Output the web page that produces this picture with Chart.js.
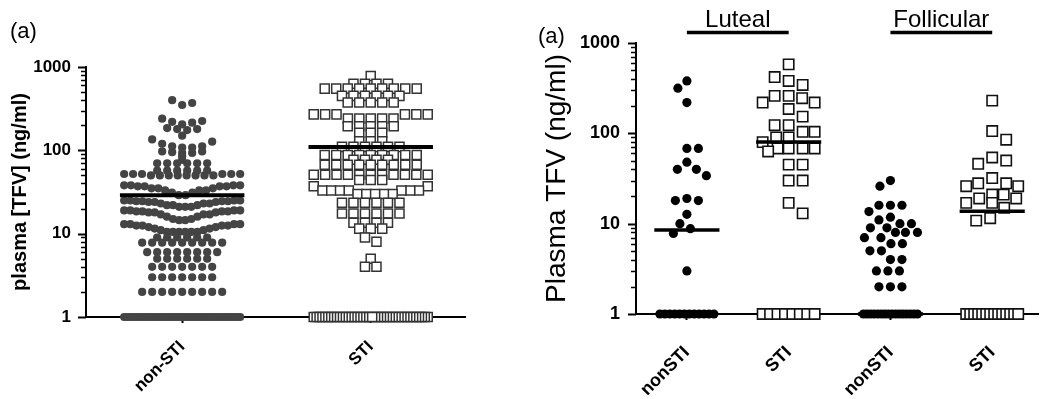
<!DOCTYPE html>
<html>
<head>
<meta charset="utf-8">
<script src="https://cdn.jsdelivr.net/npm/chart.js@4"></script>
<style>
  html, body { margin: 0; padding: 0; background: #fff; }
  #wrap { position: relative; width: 1050px; height: 399px; overflow: hidden; }
  canvas { position: absolute; top: 0; }
  #left { left: 0; }
  #right { left: 500px; }
</style>
</head>
<body>
<div id="wrap">
  <canvas id="left" width="480" height="399"></canvas>
  <canvas id="right" width="550" height="399"></canvas>
</div>
<script>
// values: each level is a TFV value (ng/ml), count = number of women at it
const yTickLabels = [1, 10, 100, 1000];

const leftCategories = ['non-STI', 'STI'];
const leftNonStiLevels = [400, 370, 350, 240, 225, 220, 215, 205, 185, 180, 175, 150, 135, 127, 120, 112, 108, 97, 95, 93, 85, 77, 70, 57, 52, 50,
  38, 37, 35, 33, 31, 29, 25, 24.5, 24, 23, 22, 21, 19, 18.5, 18, 17, 16, 15, 14.5, 13, 12.5, 12, 11.5, 11, 10.5, 9, 7.8, 6, 5, 4, 3, 2, 1];
const leftNonStiCounts = [1, 1, 1, 1, 1, 1, 1, 1, 1, 2, 1, 1, 1, 1, 1, 2, 2, 2, 1, 2, 1, 1, 6, 6, 6, 8,
  4, 4, 3, 3, 2, 2, 4, 4, 3, 3, 3, 3, 4, 4, 3, 3, 2, 2, 2, 4, 4, 2, 2, 2, 6, 6, 9, 8, 6, 7, 7, 9, 40];
const leftStiLevels = [780, 630, 550, 450, 375, 270, 240, 195, 163, 128, 110, 88, 77, 67, 51, 44, 37, 33, 30, 23.5, 17.5, 13.5, 11.5, 9, 8, 5, 4, 1];
const leftStiCounts = [1, 4, 9, 6, 5, 6, 5, 5, 3, 3, 6, 9, 4, 9, 11, 3, 2, 7, 5, 6, 6, 4, 3, 1, 1, 1, 2, 40];
const leftMedians = [29, 110];

const rightCategories = ['nonSTI', 'STI', 'nonSTI', 'STI'];
const rightPhases = ['Luteal', 'Follicular'];
const lutealNonStiLevels = [380, 316, 219, 68, 48, 40, 34, 19, 18, 12.7, 10, 8.8, 7.8, 3, 1];
const lutealNonStiCounts = [1, 1, 1, 2, 1, 2, 1, 1, 2, 1, 1, 1, 1, 1, 12];
const lutealStiLevels = [580, 420, 380, 343, 260, 245, 219, 186, 153, 123, 104, 90, 80, 68, 63, 45, 30, 17, 13, 1];
const lutealStiCounts = [1, 1, 1, 1, 2, 1, 2, 1, 1, 2, 2, 2, 1, 4, 1, 2, 2, 1, 1, 8];
const follicularNonStiLevels = [30, 26, 16, 13.6, 11.8, 11, 10, 9, 8, 7, 6, 5, 4, 3, 2, 1];
const follicularNonStiCounts = [1, 1, 3, 1, 1, 1, 2, 2, 3, 2, 2, 2, 2, 3, 3, 16];
const follicularStiLevels = [230, 106, 85, 54, 50, 46, 32, 28, 26, 21, 19, 17, 15, 11.5, 10.8, 1];
const follicularStiCounts = [1, 1, 1, 1, 1, 1, 1, 2, 2, 2, 2, 2, 1, 1, 1, 14];
const rightMedians = [8.5, 80, 1, 13.7];

Chart.defaults.font.family = '"Liberation Sans", Arial, Helvetica, sans-serif';
Chart.defaults.color = '#000';

function expand(levels, counts) {
  const out = [];
  levels.forEach((v, i) => { for (let k = 0; k < counts[i]; k++) out.push(v); });
  return out;
}

const euclid = (dx, dy) => Math.hypot(dx, dy);
const cheb = (dx, dy) => Math.max(Math.abs(dx), Math.abs(dy));

// GraphPad-like rows: a row runs on while consecutive values stay close,
// higher values go to the outer ends so a row bends into an arc
function rowsLayout(vals, o, ys) {
  const rows = [];
  let lastPy = null;
  vals.forEach(v => {
    const py = ys.getPixelForValue(v);
    if (lastPy !== null && py - lastPy < o.gap) rows[rows.length - 1].push(v);
    else rows.push([v]);
    lastPy = py;
  });
  const out = [];
  rows.forEach(r => {
    const n = r.length;
    const step = n > 1 ? Math.min(o.step, 2 * o.half / (n - 1)) : 0;
    const slots = r.map((_, k) => (k - (n - 1) / 2) * step)
      .sort((a, b) => Math.abs(b) - Math.abs(a) || a - b);
    r.forEach((v, k) => out.push({ dx: slots[k], v }));
  });
  return out;
}

// beeswarm: each point takes the nearest free spot to the centre
function swarmLayout(vals, o, ys) {
  const counts = {};
  vals.forEach(v => { counts[v] = (counts[v] || 0) + 1; });
  const cap = Math.floor(2 * o.half / o.dist) + 1;
  const done = new Set();
  const placed = [], out = [];
  let flip = 1;
  vals.forEach(v => {
    const py = ys.getPixelForValue(v);
    if (counts[v] > cap) {
      if (done.has(v)) return;
      done.add(v);
      const n = counts[v];
      for (let k = 0; k < n; k++) {
        const dx = -o.half + 2 * o.half * k / (n - 1);
        out.push({ dx, v }); placed.push({ dx, py });
      }
      return;
    }
    let best = 0, bestScore = -1;
    search:
    for (let s = 0; s <= o.half; s += 0.5) {
      for (const dx of (s === 0 ? [0] : [s * flip, -s * flip])) {
        let m = Infinity;
        placed.forEach(p => { const d = o.metric(dx - p.dx, py - p.py); if (d < m) m = d; });
        if (m >= o.dist) { best = dx; break search; }
        if (m > bestScore) { bestScore = m; best = dx; }
      }
    }
    flip = -flip;
    out.push({ dx: best, v }); placed.push({ dx: best, py });
  });
  return out;
}

// 1..9 x each decade, for the small log tick marks
function logTicks() {
  const t = [];
  yTickLabels.forEach((d, i) => {
    if (i === yTickLabels.length - 1) { t.push({ value: d, major: true }); return; }
    for (let k = 1; k < 10; k++) t.push({ value: k * d, major: k === 1 });
  });
  return t;
}

const logTickMarks = {
  id: 'logTickMarks',
  afterDraw(chart) {
    const { ctx } = chart, ys = chart.scales.y;
    const x0 = chart.chartArea.left;
    ctx.save();
    ctx.strokeStyle = '#000';
    logTicks().forEach(t => {
      const y = Math.round(ys.getPixelForValue(t.value)) + 0.5;
      ctx.lineWidth = t.major ? 2 : 1.5;
      ctx.beginPath();
      ctx.moveTo(x0 - (t.major ? 8 : 5), y);
      ctx.lineTo(x0, y);
      ctx.stroke();
    });
    ctx.restore();
  }
};

function makeChart(id, cats, groups, medians, box, plugin) {
  const datasets = groups.map(g => ({
    data: g.values.map(v => ({ x: g.cat, y: v })),
    pointStyle: g.style.shape,
    pointRadius: g.style.radius,
    backgroundColor: g.style.fill,
    borderColor: g.style.stroke,
    borderWidth: g.style.lineWidth,
    clip: false,
    order: 1
  }));
  medians.forEach((m, i) => datasets.push({
    data: [{ x: i - box.medianHalf, y: m }, { x: i + box.medianHalf, y: m }],
    showLine: true,
    pointRadius: 0,
    borderColor: '#000',
    borderWidth: box.medianWidth,
    clip: false,
    order: 0
  }));

  const chart = new Chart(document.getElementById(id), {
    type: 'scatter',
    data: { datasets },
    options: {
      responsive: false,
      animation: false,
      events: [],
      layout: { padding: { top: box.top, right: box.right, left: 0, bottom: 0 } },
      plugins: { legend: { display: false }, tooltip: { enabled: false } },
      scales: {
        x: {
          type: 'linear',
          min: box.xMin,
          max: box.xMax,
          afterBuildTicks: s => { s.ticks = cats.map((c, i) => ({ value: i })); },
          afterFit: s => { s.height = box.xHeight; },
          ticks: {
            callback: v => cats[v] ?? '',
            minRotation: 45,
            maxRotation: 45,
            autoSkip: false,
            padding: box.xPad,
            font: { size: box.xFont, weight: 'bold' }
          },
          grid: { drawOnChartArea: false, tickLength: 6, tickWidth: 2, tickColor: '#000' },
          border: { display: true, color: '#000', width: 2 }
        },
        y: {
          type: 'logarithmic',
          min: 1,
          max: 1000,
          afterBuildTicks: s => { s.ticks = yTickLabels.map(v => ({ value: v, major: true })); },
          afterFit: s => { s.width = box.yWidth; },
          ticks: {
            autoSkip: false,
            padding: box.yPad,
            font: { size: box.yFont, weight: 'bold' },
            callback: v => String(v)
          },
          grid: { display: false },
          border: { display: true, color: '#000', width: 2 },
          title: {
            display: true,
            text: box.title,
            font: box.titleFont,
            padding: { top: box.titlePad, bottom: 0 }
          }
        }
      }
    },
    plugins: [logTickMarks, plugin]
  });

  const xs = chart.scales.x, ys = chart.scales.y;
  const ppu = xs.getPixelForValue(1) - xs.getPixelForValue(0);
  groups.forEach((g, i) => {
    const sorted = g.values.slice().sort((a, b) => b - a);
    const pts = g.style.mode === 'rows' ? rowsLayout(sorted, g.style, ys) : swarmLayout(sorted, g.style, ys);
    chart.data.datasets[i].data = pts.map(p => ({ x: g.cat + p.dx / ppu, y: p.v }));
  });
  chart.update('none');
  return chart;
}

const leftDot = { mode: 'rows', gap: 3, step: 10, half: 58, shape: 'circle', radius: 4.1, fill: '#444', stroke: '#444', lineWidth: 0 };
const leftBox = { mode: 'rows', gap: 4.5, step: 11.5, half: 57, shape: 'rect', radius: 6.4, fill: '#fff', stroke: '#333', lineWidth: 1.5 };
const rightDot = { mode: 'swarm', dist: 11.5, half: 27, metric: euclid, shape: 'circle', radius: 4.6, fill: '#000', stroke: '#000', lineWidth: 0 };
const rightBox = { mode: 'swarm', dist: 14, half: 26, metric: cheb, shape: 'rect', radius: 7.3, fill: '#fff', stroke: '#111', lineWidth: 1.6 };

const leftLabels = {
  id: 'leftLabels',
  afterDraw(chart) {
    const ctx = chart.ctx;
    ctx.save();
    ctx.fillStyle = '#000';
    ctx.font = '22px "Liberation Sans", Arial, sans-serif';
    ctx.textBaseline = 'alphabetic';
    ctx.fillText('(a)', 10, 38);
    ctx.restore();
  }
};

const rightLabels = {
  id: 'rightLabels',
  afterDraw(chart) {
    const ctx = chart.ctx, x = chart.scales.x;
    ctx.save();
    ctx.fillStyle = '#000';
    ctx.strokeStyle = '#000';
    ctx.textBaseline = 'alphabetic';
    ctx.font = '22px "Liberation Sans", Arial, sans-serif';
    ctx.fillText('(a)', 38, 43);
    ctx.font = '24px "Liberation Sans", Arial, sans-serif';
    ctx.textAlign = 'center';
    rightPhases.forEach((p, i) => {
      const a = x.getPixelForValue(2 * i), b = x.getPixelForValue(2 * i + 1);
      ctx.fillText(p, (a + b) / 2, 27);
      ctx.lineWidth = 3.5;
      ctx.beginPath();
      ctx.moveTo(a, 32.5);
      ctx.lineTo(b, 32.5);
      ctx.stroke();
    });
    ctx.restore();
  }
};

makeChart('left', leftCategories, [
  { cat: 0, values: expand(leftNonStiLevels, leftNonStiCounts), style: leftDot },
  { cat: 1, values: expand(leftStiLevels, leftStiCounts), style: leftBox }
], leftMedians, {
  top: 67, right: 15, yWidth: 86, xHeight: 82, xMin: -0.51, xMax: 1.5,
  xPad: 14, xFont: 17, yPad: 7, yFont: 17, medianHalf: 0.33, medianWidth: 4,
  title: 'plasma [TFV] (ng/ml)', titleFont: { size: 20, weight: 'bold' }, titlePad: 8
}, leftLabels);

makeChart('right', rightCategories, [
  { cat: 0, values: expand(lutealNonStiLevels, lutealNonStiCounts), style: rightDot },
  { cat: 1, values: expand(lutealStiLevels, lutealStiCounts), style: rightBox },
  { cat: 2, values: expand(follicularNonStiLevels, follicularNonStiCounts), style: rightDot },
  { cat: 3, values: expand(follicularStiLevels, follicularStiCounts), style: rightBox }
], rightMedians, {
  top: 43, right: 12, yWidth: 136, xHeight: 85, xMin: -0.5, xMax: 3.45,
  xPad: 22, xFont: 18, yPad: 8, yFont: 18, medianHalf: 0.32, medianWidth: 3.5,
  title: 'Plasma TFV (ng/ml)', titleFont: { size: 28, weight: 'normal' }, titlePad: 40
}, rightLabels);
</script>
</body>
</html>
